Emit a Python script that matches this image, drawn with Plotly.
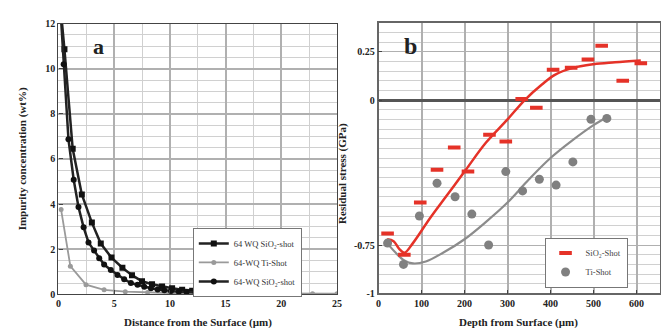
import plotly.graph_objects as go

# ---------- Panel a data ----------
a1_x = [0.25, 0.54, 1.28, 2.1, 3.0, 3.8, 4.76, 5.74, 6.6, 7.5, 8.4, 9.3, 10.2, 11.1, 12.0, 13.0, 14.0, 15.0, 16.0, 17.0, 18.0, 19.0, 20.0]
a1_y = [12.4, 10.86, 6.45, 4.43, 3.18, 2.25, 1.63, 1.18, 0.85, 0.58, 0.45, 0.35, 0.27, 0.2, 0.16, 0.12, 0.1, 0.08, 0.07, 0.06, 0.05, 0.05, 0.04]

a2_x = [0.24, 1.07, 2.47, 4.1, 6.0, 8.0, 10.0, 12.5, 15.0, 17.5, 20.0, 22.8, 25.0]
a2_y = [3.76, 1.25, 0.43, 0.2, 0.12, 0.08, 0.06, 0.05, 0.04, 0.04, 0.03, 0.03, 0.03]

a3_x = [0.2, 0.47, 0.9, 1.37, 1.8, 2.26, 2.7, 3.2, 3.66, 4.1, 4.7, 5.3, 5.9, 6.5, 7.1, 7.7, 8.3, 8.9, 9.5, 10.1, 10.8, 11.5, 12.3, 13.1, 14.0, 15.0, 16.0, 17.0, 18.0, 19.0, 20.0]
a3_y = [12.5, 10.2, 6.87, 5.08, 3.87, 2.97, 2.3, 1.94, 1.6, 1.32, 1.08, 0.86, 0.67, 0.5, 0.42, 0.34, 0.27, 0.22, 0.18, 0.15, 0.12, 0.1, 0.08, 0.07, 0.06, 0.05, 0.05, 0.04, 0.04, 0.03, 0.03]

a_names = ["64 WQ SiO\u2082-shot", "64-WQ Ti-Shot", "64-WQ SiO\u2082-shot"]
a_xticks = [0, 5, 10, 15, 20, 25]
a_yticks = [0, 2, 4, 6, 8, 10, 12]

# ---------- Panel b data ----------
sio2_x = [21, 60, 97, 136, 176, 208, 258, 296, 333, 367, 406, 448, 487, 519, 568, 610]
sio2_y = [-0.69, -0.80, -0.53, -0.36, -0.245, -0.37, -0.18, -0.215, 0.005, -0.04, 0.157, 0.167, 0.21, 0.28, 0.10, 0.19]

ti_x = [21, 58, 95, 136, 178, 217, 256, 296, 335, 374, 413, 452, 494, 531]
ti_y = [-0.74, -0.85, -0.60, -0.43, -0.50, -0.59, -0.75, -0.37, -0.47, -0.41, -0.44, -0.32, -0.10, -0.095]

sio2_fit_x = [20, 35, 48, 60, 80, 120, 160, 200, 250, 300, 340, 380, 410, 450, 500, 550, 610]
sio2_fit_y = [-0.72, -0.73, -0.77, -0.79, -0.74, -0.61, -0.49, -0.37, -0.22, -0.10, 0.0, 0.08, 0.13, 0.165, 0.185, 0.195, 0.205]

ti_fit_x = [20, 40, 60, 80, 110, 150, 200, 250, 300, 350, 400, 450, 500, 530]
ti_fit_y = [-0.74, -0.79, -0.83, -0.845, -0.835, -0.79, -0.72, -0.63, -0.53, -0.41, -0.30, -0.21, -0.13, -0.09]

b_names = ["SiO\u2082-Shot", "Ti-Shot"]
b_xticks = [0, 100, 200, 300, 400, 500, 600]
b_yticks = [-1, -0.75, 0, 0.25]
b_yticktext = ["-1", "-0.75", "0", "0.25"]

RED = "#e53228"
GREY = "#808080"
SERIF = "Liberation Serif"

fig = go.Figure()

# Panel a traces
fig.add_trace(go.Scatter(x=a1_x, y=a1_y, mode="lines+markers", name=a_names[0],
                         line=dict(color="#222222", width=2.5),
                         marker=dict(symbol="square", size=6, color="#111111"),
                         xaxis="x", yaxis="y", legend="legend"))
fig.add_trace(go.Scatter(x=a2_x, y=a2_y, mode="lines+markers", name=a_names[1],
                         line=dict(color="#9a9a9a", width=1.8),
                         marker=dict(symbol="circle", size=5, color="#9a9a9a"),
                         xaxis="x", yaxis="y", legend="legend"))
fig.add_trace(go.Scatter(x=a3_x, y=a3_y, mode="lines+markers", name=a_names[2],
                         line=dict(color="#222222", width=2.5),
                         marker=dict(symbol="circle", size=6, color="#111111"),
                         xaxis="x", yaxis="y", legend="legend"))

# Panel b traces
fig.add_trace(go.Scatter(x=sio2_fit_x, y=sio2_fit_y, mode="lines", line=dict(color=RED, width=2.5, shape="spline"),
                         showlegend=False, xaxis="x2", yaxis="y2", hoverinfo="skip"))
fig.add_trace(go.Scatter(x=ti_fit_x, y=ti_fit_y, mode="lines", line=dict(color="#8c8c8c", width=2.2, shape="spline"),
                         showlegend=False, xaxis="x2", yaxis="y2", hoverinfo="skip"))
fig.add_trace(go.Scatter(x=sio2_x, y=sio2_y, mode="markers", name=b_names[0],
                         marker=dict(symbol="line-ew-open", size=9, color=RED, line=dict(color=RED, width=4)),
                         xaxis="x2", yaxis="y2", legend="legend2"))
fig.add_trace(go.Scatter(x=ti_x, y=ti_y, mode="markers", name=b_names[1],
                         marker=dict(symbol="circle", size=9, color=GREY),
                         xaxis="x2", yaxis="y2", legend="legend2"))

tickfont = dict(family=SERIF, size=10, color="#222222", weight="bold")
gridc = "#b0b0b0"
minorc = "#d0d0d0"

fig.update_layout(
    width=669, height=328,
    margin=dict(l=0, r=0, t=0, b=0),
    paper_bgcolor="white", plot_bgcolor="white",
    xaxis=dict(domain=[48/669, 330/669], range=[0, 25], tickmode="array", tickvals=a_xticks,
               showline=True, linecolor="#444444", linewidth=1.2, mirror=True,
               ticks="inside", ticklen=4, tickcolor="#444444",
               showgrid=True, gridcolor=gridc, gridwidth=1.5,
               minor=dict(tickmode="linear", dtick=2.5, tick0=0, showgrid=True, gridcolor=minorc, gridwidth=1),
               zeroline=False, tickfont=tickfont, anchor="y"),
    yaxis=dict(domain=[(328-291)/328, (328-10)/328], range=[0, 12], tickmode="array", tickvals=a_yticks,
               showline=True, linecolor="#444444", linewidth=1.2, mirror=True,
               ticks="inside", ticklen=4, tickcolor="#444444",
               showgrid=True, gridcolor=gridc, gridwidth=1.5,
               minor=dict(tickmode="linear", dtick=0.5, tick0=0, showgrid=True, gridcolor=minorc, gridwidth=1),
               zeroline=False, tickfont=tickfont, anchor="x"),
    xaxis2=dict(domain=[372/669, 657/669], range=[0, 655], tickmode="array", tickvals=b_xticks,
                showline=True, linecolor="#666666", linewidth=1.5, mirror=True,
                ticks="inside", ticklen=4, tickcolor="#444444",
                showgrid=True, gridcolor=gridc, gridwidth=1.5,
                zeroline=False, tickfont=tickfont, anchor="y2"),
    yaxis2=dict(domain=[(328-290)/328, (328-9)/328], range=[-1, 0.4],
                tickmode="array", tickvals=b_yticks, ticktext=b_yticktext,
                showline=True, linecolor="#666666", linewidth=1.5, mirror=True,
                ticks="inside", ticklen=4, tickcolor="#444444",
                showgrid=True, gridcolor=gridc, gridwidth=1,
                minor=dict(tickmode="linear", dtick=0.05, tick0=0, showgrid=True, gridcolor=minorc, gridwidth=1),
                zeroline=True, zerolinecolor="#555555", zerolinewidth=2.5,
                tickfont=tickfont, anchor="x2"),
    legend=dict(x=184/669, y=(328-222)/328, xanchor="left", yanchor="top",
                bgcolor="white", bordercolor="#777777", borderwidth=1,
                font=dict(family=SERIF, size=8.5, color="#333333"),
                itemwidth=30, tracegroupgap=0),
    legend2=dict(x=540/669, y=(328-232)/328, xanchor="left", yanchor="top",
                 bgcolor="white", bordercolor="#777777", borderwidth=1,
                 font=dict(family=SERIF, size=8.5, color="#444444"),
                 itemwidth=30, tracegroupgap=0),
    showlegend=True,
)

ann_font = dict(family=SERIF, size=11, color="#222222", weight="bold")
fig.add_annotation(x=189/669, y=(328-320)/328, xref="paper", yref="paper",
                   text="Distance from the Surface (\u00b5m)", showarrow=False, font=ann_font,
                   xanchor="center", yanchor="middle")
fig.add_annotation(x=12/669, y=(328-150)/328, xref="paper", yref="paper",
                   text="Impurity concentration (wt%)", showarrow=False, font=ann_font,
                   textangle=-90, xanchor="center", yanchor="middle")
fig.add_annotation(x=514/669, y=(328-320)/328, xref="paper", yref="paper",
                   text="Depth from Surface (\u00b5m)", showarrow=False, font=ann_font,
                   xanchor="center", yanchor="middle")
fig.add_annotation(x=336/669, y=(328-165)/328, xref="paper", yref="paper",
                   text="Residual stress (GPa)", showarrow=False, font=ann_font,
                   textangle=-90, xanchor="center", yanchor="middle")
fig.add_annotation(x=89/669, y=(328-34)/328, xref="paper", yref="paper",
                   text="a", showarrow=False,
                   font=dict(family=SERIF, size=22, color="#222222", weight="bold"),
                   xanchor="center", yanchor="middle")
fig.add_annotation(x=404/669, y=(328-33)/328, xref="paper", yref="paper",
                   text="b", showarrow=False,
                   font=dict(family=SERIF, size=24, color="#222222", weight="bold"),
                   xanchor="center", yanchor="middle")

fig.write_html("out.html")
